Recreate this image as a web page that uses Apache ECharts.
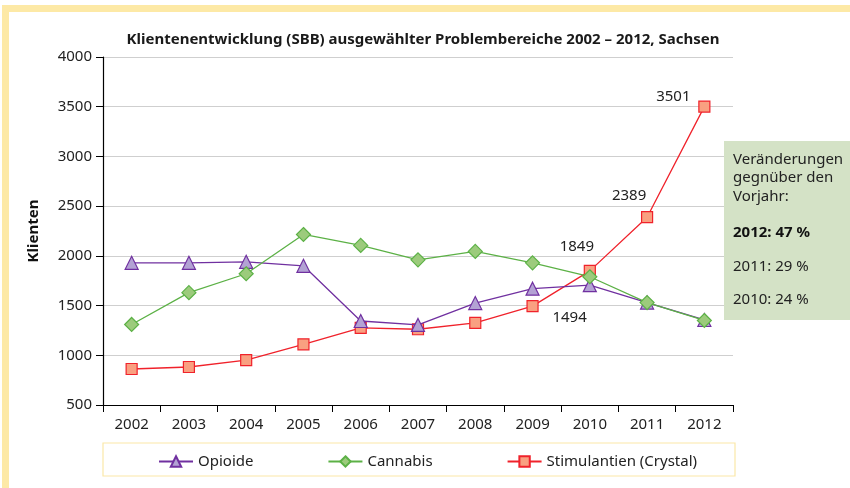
<!DOCTYPE html>
<html>
<head>
<meta charset="utf-8">
<script src="https://cdn.jsdelivr.net/npm/echarts@6/dist/echarts.min.js"></script>
<style>
  html, body { margin: 0; padding: 0; background: #fff; }
  #chart { width: 850px; height: 488px; }
</style>
</head>
<body>
<div id="chart"></div>
<script type="text/javascript">
  // Daten
  var years = ['2002', '2003', '2004', '2005', '2006', '2007', '2008', '2009', '2010', '2011', '2012'];
  var opioide = [1930, 1930, 1940, 1900, 1345, 1305, 1525, 1670, 1705, 1530, 1355];
  var cannabis = [1310, 1630, 1820, 2215, 2105, 1960, 2045, 1930, 1790, 1530, 1350];
  var stimulantien = [862, 882, 952, 1110, 1275, 1262, 1325, 1494, 1849, 2389, 3501];
  var yTicks = [500, 1000, 1500, 2000, 2500, 3000, 3500, 4000];

  var font = "'Noto Sans', 'Open Sans', sans-serif";

  // welche Punkte beschriftet werden (Index -> Versatz)
  var labelOffsets = {7: [37, 12], 8: [-13, -24], 9: [-18, -21], 10: [-31, -10]};

  var stimData = stimulantien.map(function (v, i) {
    if (labelOffsets[i]) {
      return {
        value: v,
        label: {show: true, position: 'inside', offset: labelOffsets[i], formatter: '{c}',
          color: '#222', fontSize: 15, fontFamily: font}
      };
    }
    return v;
  });

  var myChart = echarts.init(document.getElementById('chart'), null, {renderer: 'canvas'});

  var option = {
    backgroundColor: '#fff',
    animation: false,
    title: {
      text: 'Klientenentwicklung (SBB) ausgewählter Problembereiche 2002 – 2012, Sachsen',
      left: 418, top: 27, textAlign: 'center',
      textStyle: {fontSize: 15, fontWeight: 'bold', color: '#1a1a1a', fontFamily: font}
    },
    grid: {left: 103, right: 117, top: 57, bottom: 83},
    legend: {
      left: 153, top: 449,
      itemWidth: 34, itemHeight: 13, itemGap: 74,
      textStyle: {fontSize: 15, color: '#222', fontFamily: font},
      data: ['Opioide', 'Cannabis', 'Stimulantien (Crystal)']
    },
    xAxis: {
      type: 'category',
      data: years,
      boundaryGap: true,
      axisLine: {lineStyle: {color: '#000', width: 1.2}},
      axisTick: {show: true, inside: false, length: 7, alignWithLabel: false, lineStyle: {color: '#000'}},
      axisLabel: {fontSize: 15, color: '#222', margin: 12, fontFamily: font}
    },
    yAxis: {
      type: 'value',
      min: yTicks[0], max: yTicks[yTicks.length - 1], interval: 500,
      name: 'Klienten', nameLocation: 'middle', nameGap: 62, nameRotate: 90,
      nameTextStyle: {fontSize: 15, fontWeight: 'bold', color: '#111', fontFamily: font},
      axisLine: {show: true, lineStyle: {color: '#000', width: 1.2}},
      axisTick: {show: true, length: 7, lineStyle: {color: '#000'}},
      axisLabel: {fontSize: 15, color: '#222', margin: 11, fontFamily: font,
        formatter: function (v) { return String(v); }},
      splitLine: {lineStyle: {color: '#cfcfcf', width: 1.2}}
    },
    graphic: [
      // gelber Rahmen
      {type: 'rect', shape: {x: 2, y: 5, width: 848, height: 7}, style: {fill: '#fde9a6'}, z: 0},
      {type: 'rect', shape: {x: 2, y: 5, width: 7, height: 483}, style: {fill: '#fde9a6'}, z: 0},
      // Legendenrahmen
      {type: 'rect', shape: {x: 103, y: 443, width: 632, height: 33},
        style: {fill: 'none', stroke: '#fbe8a8', lineWidth: 1.2}, z: 0},
      // Veraenderungen-Box
      {type: 'rect', shape: {x: 724, y: 141, width: 126, height: 179}, style: {fill: '#d4e2c6'}, z: 10},
      {type: 'text', left: 733, top: 150, z: 11,
        style: {text: 'Veränderungen\ngegnüber den\nVorjahr:', fill: '#222', fontSize: 15, lineHeight: 18.5, fontFamily: font}},
      {type: 'text', left: 733, top: 225, z: 11,
        style: {text: '2012: 47 %', fill: '#111', fontSize: 15, fontWeight: 'bold', fontFamily: font}},
      {type: 'text', left: 733, top: 259, z: 11,
        style: {text: '2011: 29 %', fill: '#222', fontSize: 15, fontFamily: font}},
      {type: 'text', left: 733, top: 292, z: 11,
        style: {text: '2010: 24 %', fill: '#222', fontSize: 15, fontFamily: font}}
    ],
    series: [
      {
        name: 'Opioide', type: 'line', data: opioide,
        symbol: 'triangle', symbolSize: 13,
        lineStyle: {color: '#7030a0', width: 1.3},
        itemStyle: {color: '#b3a2d4', borderColor: '#7030a0', borderWidth: 1.2},
        z: 3
      },
      {
        name: 'Cannabis', type: 'line', data: cannabis,
        symbol: 'diamond', symbolSize: 14,
        lineStyle: {color: '#5cb146', width: 1.3},
        itemStyle: {color: '#9ccb7c', borderColor: '#5cb146', borderWidth: 1.2},
        z: 4
      },
      {
        name: 'Stimulantien (Crystal)', type: 'line', data: stimData,
        symbol: 'rect', symbolSize: 11,
        lineStyle: {color: '#f0222b', width: 1.3},
        itemStyle: {color: '#f9a081', borderColor: '#f0222b', borderWidth: 1.2},
        z: 2
      }
    ]
  };
  myChart.setOption(option);
</script>
</body>
</html>
